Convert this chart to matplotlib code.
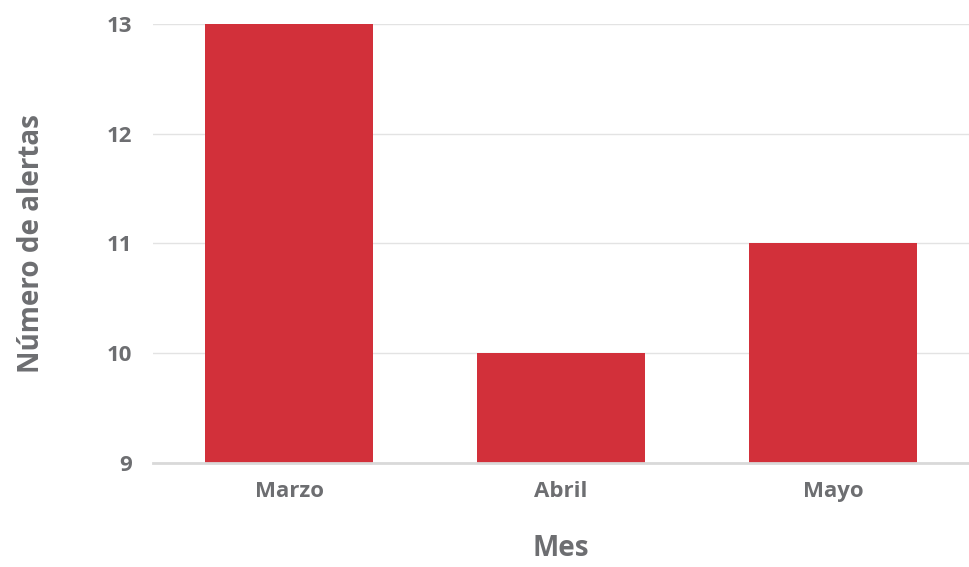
import matplotlib
matplotlib.use("Agg")
import matplotlib.pyplot as plt

meses = ["Marzo", "Abril", "Mayo"]
alertas = [13, 10, 11]
y_ticks = [9, 10, 11, 12, 13]

text_color = "#6d6e71"
bar_color = "#d2303a"

plt.rcParams['font.family'] = ['Open Sans', 'DejaVu Sans']

fig = plt.figure(figsize=(9.69, 5.67), dpi=100)
ax = fig.add_axes([0.158, 0.1834, 0.842, 0.7743])

ax.bar(meses, alertas, width=0.615, color=bar_color, zorder=3)
ax.set_ylim(9, 13)
ax.set_xlim(-0.5, 2.5)
ax.set_yticks(y_ticks)

ax.grid(axis='y', color='#e3e3e3', linewidth=1, zorder=0)
for s in ['top', 'right', 'left']:
    ax.spines[s].set_visible(False)
ax.spines['bottom'].set_color('#d9d9d9')
ax.spines['bottom'].set_linewidth(2)
ax.spines['bottom'].set_zorder(4)

ax.tick_params(axis='both', length=0, labelsize=16, labelcolor=text_color)
ax.tick_params(axis='y', pad=15)
ax.tick_params(axis='x', pad=13)
for lbl in ax.get_xticklabels() + ax.get_yticklabels():
    lbl.set_fontweight('bold')

ax.set_xlabel("Mes", fontsize=20, fontweight='bold', color=text_color, labelpad=23)
ax.set_ylabel("Número de alertas", fontsize=20, fontweight='bold', color=text_color, labelpad=44)

fig.savefig("out.png", dpi=100, facecolor='white')
